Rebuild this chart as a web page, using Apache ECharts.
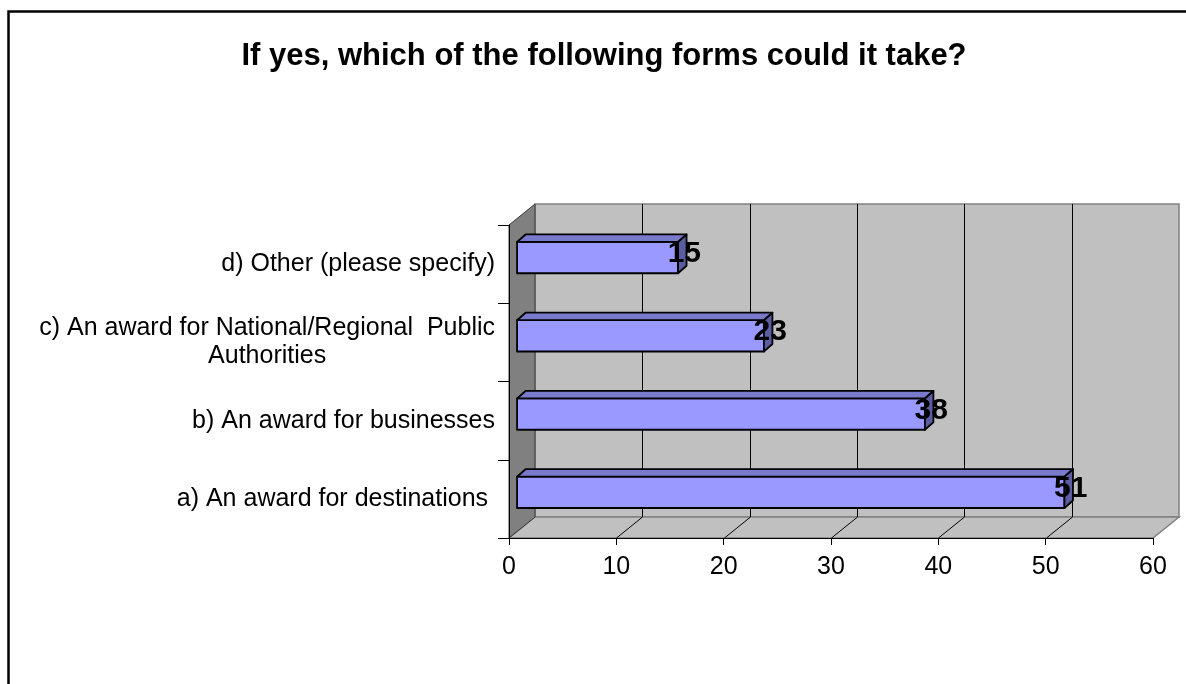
<!DOCTYPE html>
<html>
<head>
<meta charset="utf-8">
<script src="https://cdn.jsdelivr.net/npm/echarts@6/dist/echarts.min.js"></script>
<style>
  html, body { margin: 0; padding: 0; background: #fff; }
  #chart { width: 1186px; height: 684px; }
</style>
</head>
<body>
<div id="chart"></div>
<script>
// Survey answers, listed bottom to top on the category axis
const categories = [
  'a) An award for destinations ',
  'b) An award for businesses',
  'c) An award for National/Regional  Public\nAuthorities',
  'd) Other (please specify)'
];
const responses = [51, 38, 23, 15];
const xTicks = [0, 10, 20, 30, 40, 50, 60];
const chartTitle = 'If yes, which of the following forms could it take?';

const FONT = '"Liberation Sans", Arial, Helvetica, sans-serif';
const LABEL_SIZE = 25;
const LABEL_LINE = 28;
// depth of the 3-D plot box (back wall offset from the front plane)
const DEPTH_X = 26, DEPTH_Y = -21;
// bars sit a little behind the front plane and have their own depth
const BAR_FRONT = 0.31;
const BAR_DX = 8.5, BAR_DY = -7.5;
const BAR_H = 0.4;

// wrapped axis labels: centre the continuation lines under the first line
const measureCtx = document.createElement('canvas').getContext('2d');
measureCtx.font = LABEL_SIZE + 'px ' + FONT;
const richStyles = {};
const labelText = {};
categories.forEach((cat, ci) => {
  const lines = cat.split('\n');
  if (lines.length < 2) { labelText[cat] = cat; return; }
  const w0 = measureCtx.measureText(lines[0]).width;
  labelText[cat] = lines.map((ln, k) => {
    if (k === 0) return ln;
    const key = 'w' + ci + '_' + k;
    const pad = Math.max(0, (w0 - measureCtx.measureText(ln).width) / 2);
    richStyles[key] = {
      fontSize: LABEL_SIZE, fontFamily: FONT, color: '#000',
      lineHeight: LABEL_LINE, padding: [0, pad, 0, 0]
    };
    return '{' + key + '|' + ln + '}';
  }).join('\n');
});

function renderWalls(params, api) {
  const cs = params.coordSys;
  const x0 = cs.x, x1 = cs.x + cs.width, y0 = cs.y, y1 = cs.y + cs.height;
  const dx = DEPTH_X, dy = DEPTH_Y;
  const children = [
    { type: 'rect', shape: { x: x0 + dx, y: y0 + dy, width: cs.width, height: cs.height },
      style: { fill: '#C0C0C0', stroke: '#808080', lineWidth: 1.5 } },
    { type: 'polygon', shape: { points: [[x0, y1], [x1, y1], [x1 + dx, y1 + dy], [x0 + dx, y1 + dy]] },
      style: { fill: '#C0C0C0', stroke: '#808080', lineWidth: 1.5 } },
    { type: 'polygon', shape: { points: [[x0, y0], [x0 + dx, y0 + dy], [x0 + dx, y1 + dy], [x0, y1]] },
      style: { fill: '#808080', stroke: '#3a3a3a', lineWidth: 1 } }
  ];
  xTicks.forEach((v, k) => {
    if (k === 0 || k === xTicks.length - 1) return;
    const x = Math.round(api.coord([v, 0])[0]) + 0.5;
    children.push({ type: 'line', shape: { x1: x + dx, y1: y0 + dy, x2: x + dx, y2: y1 + dy },
      style: { stroke: '#000', lineWidth: 1 } });
    children.push({ type: 'line', shape: { x1: x, y1: y1, x2: x + dx, y2: y1 + dy },
      style: { stroke: '#000', lineWidth: 1 } });
  });
  return { type: 'group', children };
}

function renderBar(params, api) {
  const v = api.value(0), c = api.value(1);
  const base = api.coord([0, c]);
  const end = api.coord([v, c]);
  const band = api.size([0, 1])[1];
  const h = band * BAR_H;
  const ox = DEPTH_X * BAR_FRONT, oy = DEPTH_Y * BAR_FRONT;
  const xl = base[0] + ox, xr = end[0] + ox;
  const yt = base[1] + oy - h / 2, yb = yt + h;
  const edge = { stroke: '#000', lineWidth: 1.8, lineJoin: 'round' };
  return {
    type: 'group',
    children: [
      { type: 'rect', shape: { x: xl, y: yt, width: xr - xl, height: h },
        style: Object.assign({ fill: '#9999FF' }, edge) },
      { type: 'polygon', shape: { points: [[xl, yt], [xr, yt], [xr + BAR_DX, yt + BAR_DY], [xl + BAR_DX, yt + BAR_DY]] },
        style: Object.assign({ fill: '#7A7ACC' }, edge) },
      { type: 'polygon', shape: { points: [[xr, yt], [xr + BAR_DX, yt + BAR_DY], [xr + BAR_DX, yb + BAR_DY], [xr, yb]] },
        style: Object.assign({ fill: '#5C5CA3' }, edge) },
      { type: 'text', x: xr + BAR_DX / 2 + 2, y: (yt + yb) / 2 + BAR_DY / 2, z2: 10,
        style: { text: String(v), fill: '#000', font: 'bold 30px ' + FONT,
          textAlign: 'center', align: 'center', textVerticalAlign: 'middle', verticalAlign: 'middle' } }
    ]
  };
}

const chart = echarts.init(document.getElementById('chart'), null, { renderer: 'canvas' });
chart.setOption({
  animation: false,
  backgroundColor: '#fff',
  title: {
    text: chartTitle,
    left: 604, top: 41, padding: 0, textAlign: 'center',
    textStyle: { fontSize: 31, fontWeight: 'bold', fontFamily: FONT, color: '#000' }
  },
  graphic: [{
    type: 'rect', silent: true, z: -10,
    shape: { x: 8.5, y: 11.5, width: 1300, height: 800 },
    style: { fill: 'none', stroke: '#000', lineWidth: 2.5 }
  }],
  grid: { left: 509, right: 33, top: 225, bottom: 146, containLabel: false },
  xAxis: {
    type: 'value', min: 0, max: 60, interval: 10, z: 5,
    axisLine: { show: true, lineStyle: { color: '#000', width: 1 } },
    axisTick: { show: true, length: 7, lineStyle: { color: '#000' } },
    splitLine: { show: false },
    axisLabel: { fontSize: LABEL_SIZE, fontFamily: FONT, color: '#000', margin: 17 }
  },
  yAxis: {
    type: 'category', data: categories, z: 5,
    axisLine: { show: true, lineStyle: { color: '#000', width: 1 } },
    axisTick: { show: true, length: 11, lineStyle: { color: '#000' } },
    splitLine: { show: false },
    axisLabel: {
      fontSize: LABEL_SIZE, fontFamily: FONT, color: '#000', margin: 14, lineHeight: LABEL_LINE,
      formatter: (t) => labelText[t] || t,
      rich: richStyles
    }
  },
  series: [
    {
      type: 'custom', name: 'walls', z: 1, silent: true,
      renderItem: renderWalls,
      data: [[0, 0]], encode: { x: 0, y: 1 }
    },
    {
      type: 'custom', name: 'responses', z: 2,
      renderItem: renderBar,
      data: responses.map((v, i) => [v, i]), encode: { x: 0, y: 1 }
    }
  ]
});
</script>
</body>
</html>
